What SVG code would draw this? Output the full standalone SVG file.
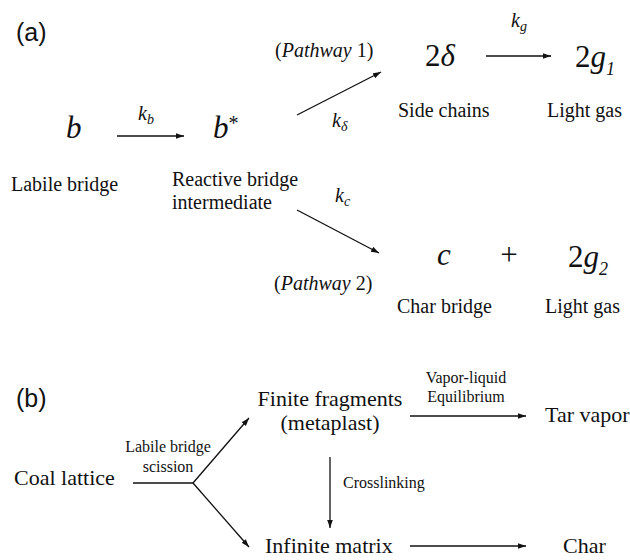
<svg xmlns="http://www.w3.org/2000/svg" width="630" height="560" viewBox="0 0 630 560">
<style>
text{font-family:"Liberation Serif","Times New Roman",serif;fill:#111}
.sans{font-family:"Liberation Sans",Arial,sans-serif;font-size:25px}
.big{font-family:"Liberation Serif","Times New Roman",serif;font-size:31px}
.lab{font-family:"Liberation Serif","Times New Roman",serif;font-size:20px}
.sm{font-family:"Liberation Serif","Times New Roman",serif;font-size:16px}
.med{font-family:"Liberation Serif","Times New Roman",serif;font-size:22px}
.it{font-style:italic}
.ln{stroke:#111;stroke-width:1.3;fill:none}
</style>
<defs>
<marker id="ah" viewBox="0 0 10 10" refX="10" refY="5" markerWidth="8" markerHeight="8" markerUnits="userSpaceOnUse" orient="auto">
<path d="M0,1.5 L10,5 L0,8.5 z" fill="#111"/>
</marker>
</defs>
<text class="sans" x="16" y="41">(a)</text>
<text class="sans" x="16" y="407">(b)</text>
<g id="connectors">
<line class="ln" x1="117" y1="136" x2="184" y2="136" marker-end="url(#ah)"/>
<line class="ln" x1="297" y1="115" x2="381" y2="72" marker-end="url(#ah)"/>
<line class="ln" x1="486" y1="56" x2="551" y2="56" marker-end="url(#ah)"/>
<line class="ln" x1="297" y1="210" x2="379" y2="253" marker-end="url(#ah)"/>
<path class="ln" d="M133,483 H193 L249,418" marker-end="url(#ah)"/>
<path class="ln" d="M193,483 L249,547" marker-end="url(#ah)"/>
<line class="ln" x1="410" y1="416" x2="526" y2="416" marker-end="url(#ah)"/>
<line class="ln" x1="330" y1="457" x2="330" y2="528" marker-end="url(#ah)"/>
<line class="ln" x1="410" y1="546" x2="526" y2="546" marker-end="url(#ah)"/>
</g>
<g id="kb"><text class="it lab" x="138" y="120">k<tspan font-size="14" dy="4">b</tspan></text></g>
<g id="kd"><text class="it lab" x="332" y="127">k<tspan font-size="14" dy="4">δ</tspan></text></g>
<g id="kg"><text class="it lab" x="511" y="27">k<tspan font-size="14" dy="4">g</tspan></text></g>
<g id="kc"><text class="it lab" x="335" y="202">k<tspan font-size="14" dy="4">c</tspan></text></g>
<g id="p1"><text class="lab" x="275" y="57">(<tspan class="it">Pathway</tspan> 1)</text></g>
<g id="p2"><text class="lab" x="274" y="290">(<tspan class="it">Pathway</tspan> 2)</text></g>
<g id="node-b"><text class="big it" x="66" y="138">b</text><text class="lab" x="11" y="191">Labile bridge</text></g>
<g id="node-bstar"><text class="big it" x="213" y="138">b<tspan font-size="20" font-style="normal" dy="-8">*</tspan></text><text class="lab" x="172" y="186">Reactive bridge</text><text class="lab" x="172" y="209">intermediate</text></g>
<g id="node-delta"><text class="big" x="425" y="66">2<tspan class="it">δ</tspan></text><text class="lab" x="398" y="117">Side chains</text></g>
<g id="node-g1"><text class="big it" x="575" y="67"><tspan font-style="normal">2</tspan>g<tspan font-size="18" dy="8">1</tspan></text><text class="lab" x="547" y="117">Light gas</text></g>
<g id="node-c"><text class="big it" x="437" y="265">c</text><text class="lab" x="397" y="313">Char bridge</text></g>
<g id="plus"><text class="big" x="509" y="265" text-anchor="middle">+</text></g>
<g id="node-g2"><text class="big it" x="568" y="267"><tspan font-style="normal">2</tspan>g<tspan font-size="18" dy="8">2</tspan></text><text class="lab" x="545" y="313">Light gas</text></g>
<g id="node-coal"><text class="med" x="14" y="485">Coal lattice</text></g>
<g id="lbl-scission"><text class="sm" x="168" y="452" text-anchor="middle">Labile bridge</text><text class="sm" x="168" y="472" text-anchor="middle">scission</text></g>
<g id="node-finite"><text class="med" x="330" y="406" text-anchor="middle">Finite fragments</text><text class="med" x="330" y="430" text-anchor="middle">(metaplast)</text></g>
<g id="lbl-vle"><text class="sm" x="466" y="383" text-anchor="middle">Vapor-liquid</text><text class="sm" x="466" y="402" text-anchor="middle">Equilibrium</text></g>
<g id="node-tar"><text class="med" x="545" y="422">Tar vapor</text></g>
<g id="lbl-cross"><text class="sm" x="343" y="488">Crosslinking</text></g>
<g id="node-inf"><text class="med" x="265" y="553">Infinite matrix</text></g>
<g id="node-char"><text class="med" x="563" y="553">Char</text></g>
</svg>
